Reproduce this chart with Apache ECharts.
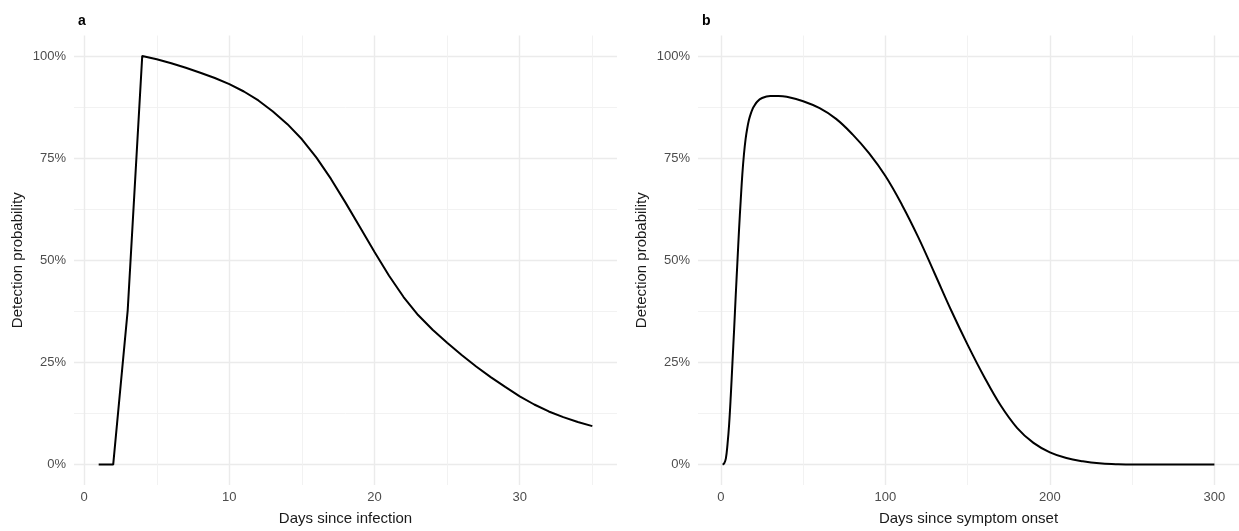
<!DOCTYPE html>
<html>
<head>
<meta charset="utf-8">
<script src="https://cdn.jsdelivr.net/npm/echarts@6/dist/echarts.min.js"></script>
<style>
  html, body { margin: 0; padding: 0; background: #fff; }
  #chart { width: 1239px; height: 531px; }
</style>
</head>
<body>
<div id="chart"></div>
<script>
// panel a: days since infection
const daysA = [1, 2, 3, 4, 5, 6, 7, 8, 9, 10, 11, 12, 13, 14, 15, 16, 17, 18, 19, 20,
  21, 22, 23, 24, 25, 26, 27, 28, 29, 30, 31, 32, 33, 34, 35];
const probA = [0, 0, 0.378, 1.0, 0.992, 0.982, 0.971, 0.959, 0.946, 0.931, 0.913, 0.891, 0.864, 0.833, 0.796,
  0.751, 0.699, 0.641, 0.581, 0.520, 0.462, 0.410, 0.366, 0.330, 0.298, 0.268, 0.240, 0.214, 0.190, 0.167,
  0.147, 0.130, 0.116, 0.104, 0.094];

// panel b: days since symptom onset
const daysB = [1, 2, 3, 4, 5, 6, 7, 8, 9, 10, 11, 12, 13, 14, 15, 16, 17, 18, 19, 20, 22, 25, 30, 35, 40,
  50, 60, 70, 80, 90, 100, 110, 120, 130, 140, 150, 160, 170, 180, 190, 200, 210, 220, 230, 240, 250, 275, 300];
const probB = [0, 0.003, 0.015, 0.05, 0.10, 0.17, 0.25, 0.33, 0.415, 0.495, 0.575, 0.645, 0.71, 0.76, 0.797,
  0.823, 0.843, 0.857, 0.868, 0.876, 0.888, 0.897, 0.902, 0.902, 0.900,
  0.889, 0.872, 0.846, 0.808, 0.762, 0.706, 0.636, 0.556, 0.467, 0.377, 0.293, 0.215, 0.145, 0.090, 0.053,
  0.030, 0.016, 0.008, 0.003, 0.001, 0, 0, 0];

const xTicksA = [0, 10, 20, 30];
const xMinorA = [5, 15, 25, 35];
const xTicksB = [0, 100, 200, 300];
const xMinorB = [50, 150, 250];
const yTicks = [0, 0.25, 0.5, 0.75, 1];
const yMinor = [0.125, 0.375, 0.625, 0.875];

const FONT = '"Liberation Sans", Arial, Helvetica, sans-serif';
const majorLine = { color: '#ebebeb', width: 1.4 };
const minorLine = { color: '#f1f1f1', width: 0.9 };

function xMajor(grid, ticks, min, max, name) {
  return {
    type: 'value', gridIndex: grid, position: 'bottom', min, max,
    name, nameLocation: 'middle', nameGap: 26,
    nameTextStyle: { fontFamily: FONT, fontSize: 15, color: '#1a1a1a' },
    axisLine: { show: false },
    axisTick: { show: false, customValues: ticks },
    axisLabel: { customValues: ticks, margin: 6, fontFamily: FONT, fontSize: 13, color: '#4d4d4d' },
    splitLine: { show: true, lineStyle: majorLine }
  };
}
function xMinor(grid, ticks, min, max) {
  return {
    type: 'value', gridIndex: grid, position: 'top', min, max,
    axisLine: { show: false },
    axisTick: { show: false, customValues: ticks },
    axisLabel: { show: false, customValues: ticks },
    splitLine: { show: true, lineStyle: minorLine }
  };
}
function yMajorAxis(grid) {
  return {
    type: 'value', gridIndex: grid, position: 'left', min: -0.05, max: 1.05,
    name: 'Detection probability', nameLocation: 'middle', nameGap: 49, nameRotate: 90,
    nameTextStyle: { fontFamily: FONT, fontSize: 15, color: '#1a1a1a' },
    axisLine: { show: false },
    axisTick: { show: false, customValues: yTicks },
    axisLabel: {
      customValues: yTicks, margin: 8, fontFamily: FONT, fontSize: 13, color: '#4d4d4d',
      formatter: (v) => Math.round(v * 100) + '%'
    },
    splitLine: { show: true, lineStyle: majorLine }
  };
}
function yMinorAxis(grid) {
  return {
    type: 'value', gridIndex: grid, position: 'right', min: -0.05, max: 1.05,
    axisLine: { show: false },
    axisTick: { show: false, customValues: yMinor },
    axisLabel: { show: false, customValues: yMinor },
    splitLine: { show: true, lineStyle: minorLine }
  };
}

const chart = echarts.init(document.getElementById('chart'), null, { renderer: 'canvas' });
chart.setOption({
  animation: false,
  backgroundColor: '#fff',
  title: [
    { text: 'a', left: 73, top: 9, textStyle: { fontFamily: FONT, fontSize: 14, fontWeight: 'bold', color: '#000' } },
    { text: 'b', left: 697, top: 9, textStyle: { fontFamily: FONT, fontSize: 14, fontWeight: 'bold', color: '#000' } }
  ],
  grid: [
    { left: 74, right: 622, top: 35.5, bottom: 43.5, containLabel: false },
    { left: 698, right: 0, top: 35.5, bottom: 43.5, containLabel: false }
  ],
  xAxis: [
    xMajor(0, xTicksA, -0.7, 36.7, 'Days since infection'),
    xMinor(0, xMinorA, -0.7, 36.7),
    xMajor(1, xTicksB, -13.95, 314.95, 'Days since symptom onset'),
    xMinor(1, xMinorB, -13.95, 314.95)
  ],
  yAxis: [yMajorAxis(0), yMinorAxis(0), yMajorAxis(1), yMinorAxis(1)],
  series: [
    {
      type: 'line', xAxisIndex: 0, yAxisIndex: 0, showSymbol: false, z: 5,
      data: daysA.map((d, i) => [d, probA[i]]),
      lineStyle: { color: '#000', width: 2 }
    },
    {
      type: 'line', xAxisIndex: 2, yAxisIndex: 2, showSymbol: false, z: 5,
      smooth: 0.4,
      data: daysB.map((d, i) => [d, probB[i]]),
      lineStyle: { color: '#000', width: 2 }
    }
  ]
});
</script>
</body>
</html>
